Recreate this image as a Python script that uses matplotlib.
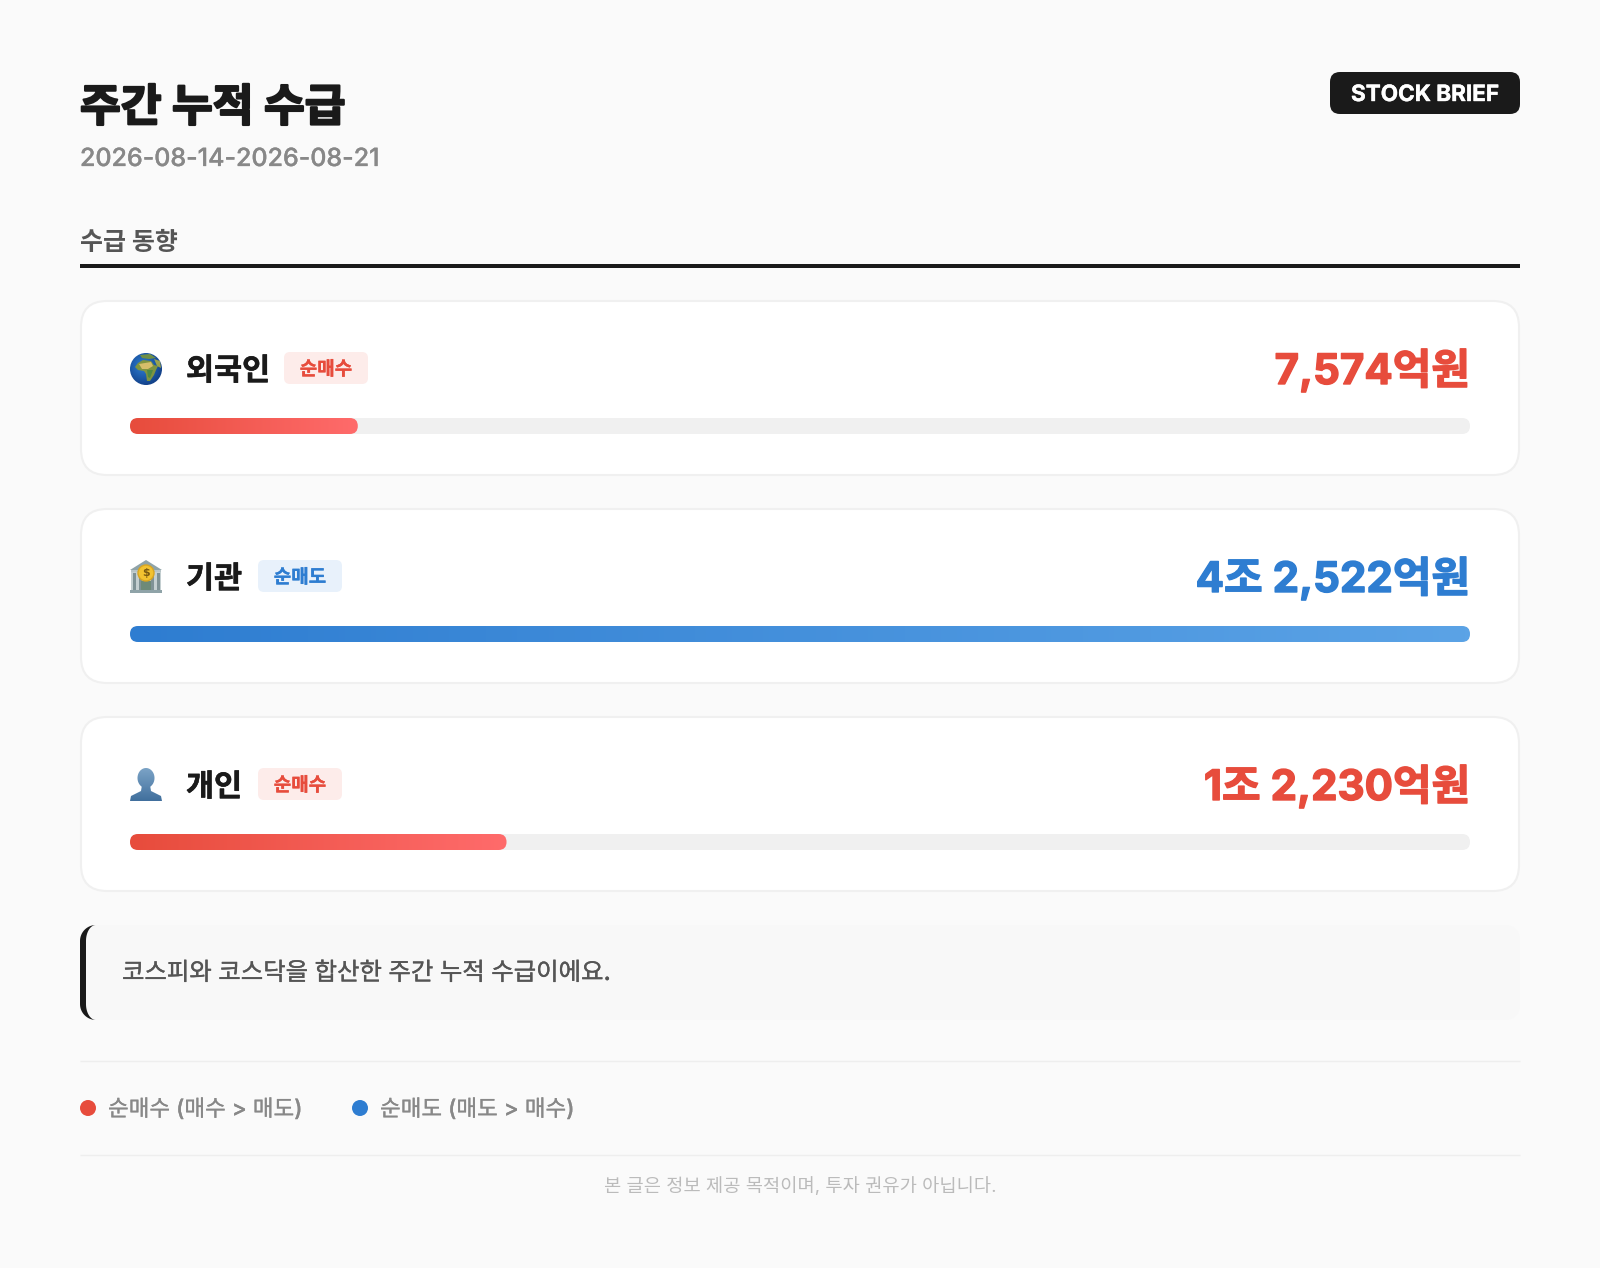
import numpy as np
import matplotlib
matplotlib.use('Agg')
import matplotlib.pyplot as plt
import matplotlib.patheffects as pe
from matplotlib.colors import LinearSegmentedColormap
from matplotlib.patches import FancyBboxPatch, Circle, Polygon, Rectangle

plt.rcParams['font.family'] = ['Inter', 'Noto Sans CJK KR', 'DejaVu Sans']

# data
names = ['외국인', '기관', '개인']
badges = ['순매수', '순매도', '순매수']
value_labels = ['7,574억원', '4조 2,522억원', '1조 2,230억원']
bar_pct = [17.0, 100.0, 28.1]
title = '주간 누적 수급'
date_range = '2026-08-14-2026-08-21'
section = '수급 동향'
note = '코스피와 코스닥을 합산한 주간 누적 수급이에요.'
legend_labels = ['순매수 (매수 > 매도)', '순매도 (매도 > 매수)']
footer = '본 글은 정보 제공 목적이며, 투자 권유가 아닙니다.'
brand = 'STOCK BRIEF'

RED = '#E74C3C'
BLUE = '#2E7DD1'
DARK = '#1A1A1A'
BG = '#FAFAFA'
styles = {
    '순매수': dict(c=RED, end='#FF6B6B', bg='#FDECEA'),
    '순매도': dict(c=BLUE, end='#5BA3E6', bg='#E8F1FB'),
}

fig = plt.figure(figsize=(16, 12.68), dpi=100, facecolor=BG)
ax = fig.add_axes([0, 0, 1, 1])
ax.set_axis_off()


def px(size):
    return size * 0.72


def label(x, y, s, size, color, weight='normal', ha='left', va='baseline', stroke=0, z=3):
    # stroke thickens the hangul, the CJK family stops at bold
    t = ax.text(x, y, s, fontsize=px(size), color=color, fontweight=weight, ha=ha, va=va, zorder=z)
    if stroke:
        t.set_path_effects([pe.withStroke(linewidth=stroke, foreground=color)])
    return t


def rbox(x0, y0, x1, y1, r, fc, ec='none', lw=0, z=1):
    p = FancyBboxPatch((x0, y0), x1 - x0, y1 - y0, boxstyle=f'round,pad=0,rounding_size={r}',
                       fc=fc, ec=ec, lw=lw, zorder=z)
    ax.add_patch(p)
    return p


def blob(cx, cy, pts, color, z=4):
    ax.add_patch(Polygon([(cx + a, cy + b) for a, b in pts], fc=color, ec='none', zorder=z))


def globe(cx, cy):
    # shaded sphere
    yy, xx = np.mgrid[-1:1:64j, -1:1:64j]
    rad = np.hypot(xx + 0.2, yy + 0.2)
    cmap = LinearSegmentedColormap.from_list('sea', ['#2F7FD0', '#1F5FAF', '#123F86'])
    im = ax.imshow(rad, cmap=cmap, vmin=0, vmax=1.3, aspect='auto',
                   extent=(cx - 16, cx + 16, cy + 16, cy - 16), zorder=3)
    disc = Circle((cx, cy), 16, fc='none', ec='none', zorder=3)
    ax.add_patch(disc)
    im.set_clip_path(disc)
    blob(cx, cy, [(-6, -14), (4, -15), (10, -11), (3, -10), (-4, -11)], '#6F8F45')
    blob(cx, cy, [(8, -10), (14, -8), (15, -1), (11, -3)], '#9AA24E')
    blob(cx, cy, [(-8, -6), (-3, -9), (5, -8), (8, -4), (12, -3), (10, 1), (8, 6), (4, 12), (1, 12),
                  (0, 5), (-2, 2), (-8, 1), (-11, -2)], '#7F9440')
    blob(cx, cy, [(-7, -5), (5, -7), (7, -3), (2, 0), (-4, 0)], '#D6BE6A', z=5)
    blob(cx, cy, [(1, 1), (7, 1), (4, 9), (2, 8)], '#4F8A45', z=5)


def bank(cx, cy):
    ax.add_patch(Polygon([(cx - 16, cy - 7), (cx, cy - 17), (cx + 16, cy - 7)], fc='#8FA3A8', ec='none', zorder=3))
    ax.add_patch(Rectangle((cx - 15, cy - 7), 30, 2, fc='#B7C4C7', ec='none', zorder=3))
    ax.add_patch(Rectangle((cx - 15, cy - 5), 30, 20, fc='#C4CFD1', ec='none', zorder=3))
    for dx in [-13, -7, 5, 11]:
        ax.add_patch(Rectangle((cx + dx, cy - 4), 3, 18, fc='#7F9296', ec='none', zorder=4))
    ax.add_patch(Rectangle((cx - 5, cy + 4), 10, 11, fc='#6E8A78', ec='none', zorder=4))
    ax.add_patch(Rectangle((cx - 16, cy + 13), 32, 3, fc='#8FA3A8', ec='none', zorder=4))
    ax.add_patch(Circle((cx, cy - 4), 8, fc='#F2C230', ec='#D9A520', lw=1, zorder=5))
    ax.text(cx, cy - 4, '$', fontsize=px(11), color='#7A5A10', ha='center', va='center',
            fontweight='bold', family='DejaVu Sans', zorder=6)


def person(cx, cy):
    cmap = LinearSegmentedColormap.from_list('p', ['#7BA3C6', '#3F6E9C'])
    im = ax.imshow(np.linspace(0, 1, 64).reshape(-1, 1), cmap=cmap, aspect='auto',
                   extent=(cx - 17, cx + 17, cy + 17, cy - 17), zorder=3)
    t = np.linspace(0, 2 * np.pi, 60)
    head = list(zip(cx + 8.5 * np.cos(t), cy - 7 + 10 * np.sin(t)))
    body = [(cx - 16, cy + 16), (cx - 15, cy + 11), (cx - 5, cy + 6), (cx - 4, cy), (cx, cy - 8), (cx + 4, cy), (cx + 5, cy + 6),
            (cx + 15, cy + 11), (cx + 16, cy + 16)]
    shape = Polygon(body, closed=True, fc='none', ec='none')
    ax.add_patch(shape)
    im.set_clip_path(shape)
    im2 = ax.imshow(np.linspace(0, 0.6, 64).reshape(-1, 1), cmap=cmap, vmin=0, vmax=1, aspect='auto',
                    extent=(cx - 10, cx + 10, cy + 4, cy - 17), zorder=3)
    hp = Polygon(head, closed=True, fc='none', ec='none')
    ax.add_patch(hp)
    im2.set_clip_path(hp)


# header
label(80, 121, title, 44.3, DARK, 'bold', stroke=1.6)
label(80, 166, date_range, 25, '#888888', 'medium', stroke=0.2)
rbox(1330, 72, 1520, 114, 10, DARK, z=2)
label(1425, 92.5, brand, 22.5, 'white', 'bold', ha='center', va='center_baseline', stroke=0.3)
label(80, 250, section, 25, '#555555', 'bold')
ax.add_patch(Rectangle((80, 264), 1440, 4, fc=DARK, ec='none'))

# cards
icons = [globe, bank, person]
name_w = [84, 58, 58]
for i, name in enumerate(names):
    top = 301 + 208 * i
    st = styles[badges[i]]
    rbox(81, top, 1519, top + 174, 26, 'white', ec='#F0F0F0', lw=1.5)
    icons[i](146, top + 68)
    label(186, top + 79, name, 30.5, DARK, 'bold', stroke=0.4)
    bx = 186 + name_w[i] + 14
    rbox(bx, top + 51, bx + 84, top + 83, 6, st['bg'], z=2)
    label(bx + 42, top + 67, badges[i], 19, st['c'], 'bold', ha='center', va='center_baseline', stroke=0.2)
    label(1470, top + 83, value_labels[i], 42, st['c'], 'bold', ha='right', stroke=1.0)
    # track + gradient fill
    by0, by1 = top + 117, top + 133
    rbox(130, by0, 1470, by1, 8, '#F0F0F0', z=2)
    bx1 = 130 + 1340 * bar_pct[i] / 100
    clip = rbox(130, by0, bx1, by1, 8, 'none', z=3)
    cmap = LinearSegmentedColormap.from_list('g' + str(i), [st['c'], st['end']])
    im = ax.imshow(np.linspace(0, 1, 256).reshape(1, -1), cmap=cmap, aspect='auto',
                   extent=(130, bx1, by1, by0), zorder=3)
    im.set_clip_path(clip)

# note
rbox(80, 925, 1520, 1020, 16, '#F8F8F8', z=1)
t = np.linspace(0, np.pi / 2, 30)
outer_top = [(96 - 16 * np.cos(a), 941 - 16 * np.sin(a)) for a in t]
inner_top = [(96 - 10 * np.cos(a), 941 - 16 * np.sin(a)) for a in t[::-1]]
outer_bot = [(96 - 16 * np.cos(a), 1004 + 16 * np.sin(a)) for a in t]
inner_bot = [(96 - 10 * np.cos(a), 1004 + 16 * np.sin(a)) for a in t[::-1]]
ax.add_patch(Polygon(outer_top[::-1] + outer_bot + inner_bot + inner_top[::-1], closed=True, fc=DARK, ec='none', zorder=2))
label(122, 980, note, 24.4, '#555555', 'medium', stroke=0.25)

# legend
ax.plot([80, 1520], [1061, 1061], color='#EEEEEE', lw=1, solid_capstyle='butt')
ax.plot([80, 1520], [1155, 1155], color='#EEEEEE', lw=1, solid_capstyle='butt')
for lx, col, lab in zip([88, 360], [RED, BLUE], legend_labels):
    ax.add_patch(Circle((lx, 1108), 8, fc=col, ec='none'))
    label(lx + 20, 1116, lab, 22.5, '#888888', 'medium', stroke=0.15)
label(800, 1192, footer, 18.7, '#BBBBBB', ha='center')

ax.set_xlim(0, 1600)
ax.set_ylim(1268, 0)
fig.savefig('out.png', dpi=100, facecolor=BG)
